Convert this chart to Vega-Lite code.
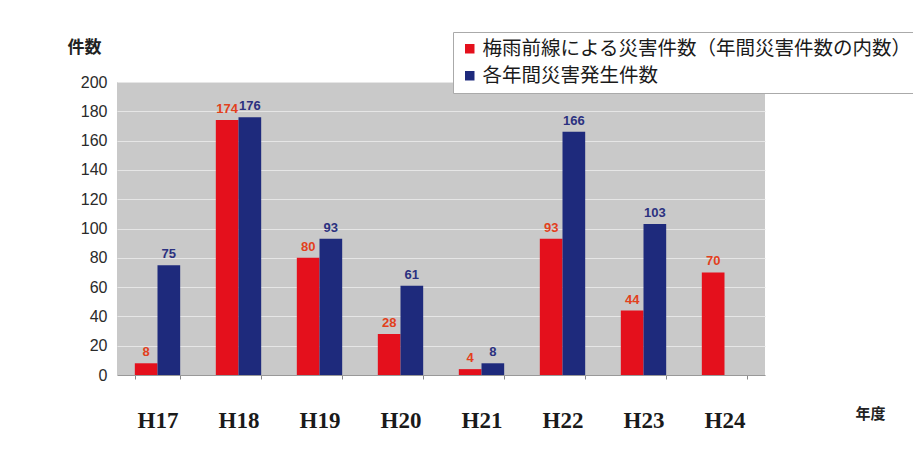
{
  "$schema": "https://vega.github.io/schema/vega-lite/v6.json",
  "width": 648,
  "height": 293,
  "autosize": "none",
  "padding": {"left": 117, "top": 82, "right": 148, "bottom": 81},
  "background": "white",
  "config": {
    "view": {"fill": "#c9c9c9", "stroke": null},
    "font": "Liberation Sans"
  },
  "data": {
    "values": [
      {"year": "H17", "series": "梅雨前線による災害件数（年間災害件数の内数）", "count": 8},
      {"year": "H17", "series": "各年間災害発生件数", "count": 75},
      {"year": "H18", "series": "梅雨前線による災害件数（年間災害件数の内数）", "count": 174},
      {"year": "H18", "series": "各年間災害発生件数", "count": 176},
      {"year": "H19", "series": "梅雨前線による災害件数（年間災害件数の内数）", "count": 80},
      {"year": "H19", "series": "各年間災害発生件数", "count": 93},
      {"year": "H20", "series": "梅雨前線による災害件数（年間災害件数の内数）", "count": 28},
      {"year": "H20", "series": "各年間災害発生件数", "count": 61},
      {"year": "H21", "series": "梅雨前線による災害件数（年間災害件数の内数）", "count": 4},
      {"year": "H21", "series": "各年間災害発生件数", "count": 8},
      {"year": "H22", "series": "梅雨前線による災害件数（年間災害件数の内数）", "count": 93},
      {"year": "H22", "series": "各年間災害発生件数", "count": 166},
      {"year": "H23", "series": "梅雨前線による災害件数（年間災害件数の内数）", "count": 44},
      {"year": "H23", "series": "各年間災害発生件数", "count": 103},
      {"year": "H24", "series": "梅雨前線による災害件数（年間災害件数の内数）", "count": 70}
    ]
  },
  "encoding": {
    "x": {
      "field": "year",
      "type": "nominal",
      "sort": null,
      "scale": {"paddingInner": 0.44, "paddingOuter": 0.22},
      "axis": {
        "title": "年度",
        "titleFont": "Noto Sans CJK JP",
        "titleFontSize": 15,
        "titleFontWeight": "bold",
        "titleColor": "#222",
        "titleAngle": 0,
        "titleAlign": "left",
        "titleBaseline": "middle",
        "titleX": 738,
        "titleY": 38,
        "labelAngle": 0,
        "labelFont": "Liberation Serif",
        "labelFontWeight": "bold",
        "labelFontSize": 23,
        "labelColor": "#1a1a1a",
        "labelPadding": 30,
        "tickBand": "extent",
        "tickSize": 4,
        "tickColor": "#888",
        "domainColor": "#999"
      }
    },
    "xOffset": {
      "field": "series",
      "type": "nominal",
      "sort": ["梅雨前線による災害件数（年間災害件数の内数）", "各年間災害発生件数"]
    },
    "y": {
      "field": "count",
      "type": "quantitative",
      "scale": {"domain": [0, 200]},
      "axis": {
        "values": [0, 20, 40, 60, 80, 100, 120, 140, 160, 180, 200],
        "title": "件数",
        "titleFont": "Noto Sans CJK JP",
        "titleFontSize": 17,
        "titleFontWeight": "bold",
        "titleColor": "#222",
        "titleAngle": 0,
        "titleAlign": "left",
        "titleBaseline": "middle",
        "titleX": -50,
        "titleY": -35,
        "labelFontSize": 16,
        "labelColor": "#2a2a2a",
        "labelPadding": 10,
        "ticks": false,
        "domain": false,
        "grid": true,
        "gridColor": "#e6e6e6",
        "gridWidth": 1
      }
    }
  },
  "layer": [
    {
      "mark": {"type": "bar"},
      "encoding": {
        "color": {
          "field": "series",
          "type": "nominal",
          "sort": ["梅雨前線による災害件数（年間災害件数の内数）", "各年間災害発生件数"],
          "scale": {"range": ["#e4101c", "#1e2a7c"]},
          "legend": {
            "title": null,
            "orient": "none",
            "legendX": 336,
            "legendY": -50,
            "direction": "vertical",
            "fillColor": "white",
            "strokeColor": "#aaa",
            "padding": 7,
            "symbolType": "square",
            "symbolSize": 90,
            "symbolStrokeWidth": 0,
            "symbolOffset": 0,
            "labelOffset": 3,
            "labelFont": "Noto Sans CJK JP",
            "labelFontSize": 19.5,
            "labelColor": "#1a1a1a",
            "labelLimit": 600,
            "rowPadding": 6
          }
        }
      }
    },
    {
      "mark": {"type": "text", "dy": -11, "fontWeight": "bold", "fontSize": 13},
      "encoding": {
        "text": {"field": "count", "type": "quantitative"},
        "color": {
          "condition": {"test": "datum.series === '各年間災害発生件数'", "value": "#2b3180"},
          "value": "#e2401c"
        }
      }
    }
  ]
}
